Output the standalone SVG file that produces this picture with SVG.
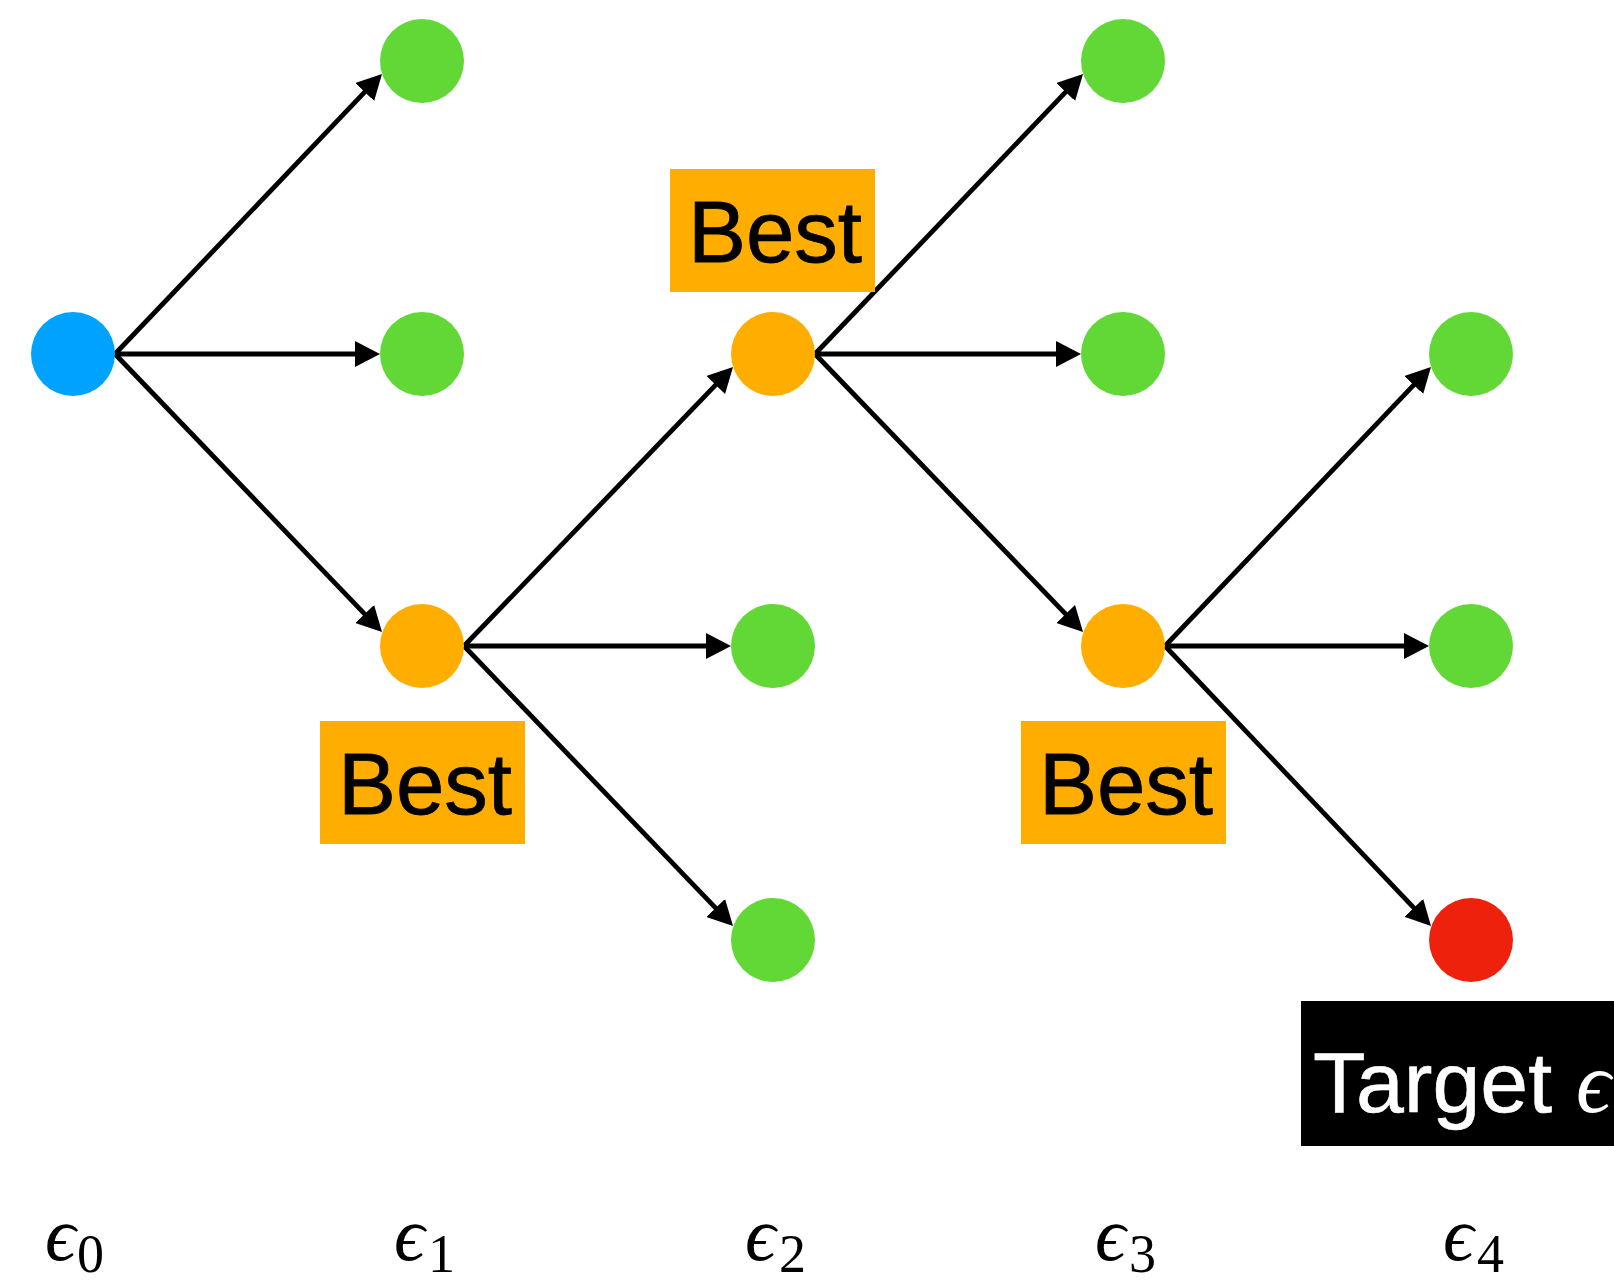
<svg xmlns="http://www.w3.org/2000/svg" width="1614" height="1286" viewBox="0 0 1614 1286">
<style>
.blue{fill:#00A2FF}
.green{fill:#61D836}
.orange{fill:#FFAE00}
.red{fill:#EE220C}
.box{fill:#FFAE00}
.lbl{font-family:"Liberation Sans",Arial,sans-serif;font-size:87px;fill:#000;stroke:#000;stroke-width:0.8}
.tgt{font-family:"Liberation Sans",Arial,sans-serif;font-size:86px;fill:#fff;stroke:#fff;stroke-width:0.6}
.eps{font-family:"Liberation Serif","DejaVu Serif",serif;font-style:italic;font-size:76px;fill:#000}
.sub{font-family:"Liberation Serif","DejaVu Serif",serif;font-size:54px;fill:#000}
.edge{stroke:#000;stroke-width:4.8;fill:none;marker-end:url(#ah)}
</style>
<defs>
<marker id="ah" markerUnits="userSpaceOnUse" markerWidth="26" markerHeight="26" refX="15" refY="13" orient="auto" viewBox="0 0 26 26">
<path d="M0,0 L25,13 L0,26 z" fill="#000"/>
</marker>
</defs>
<rect width="1614" height="1286" fill="#fff"/>
<g id="connectors">
<path class="edge" d="M115,354 L375.1,81.2"/>
<path class="edge" d="M115,354 L370,354"/>
<path class="edge" d="M115,354 L375.1,624.8"/>
<path class="edge" d="M464,646 L726.1,374.2"/>
<path class="edge" d="M464,646 L721,646"/>
<path class="edge" d="M464,646 L726.1,918.8"/>
<path class="edge" d="M815,354 L1076.1,81.2"/>
<path class="edge" d="M815,354 L1071,354"/>
<path class="edge" d="M815,354 L1076.1,624.8"/>
<path class="edge" d="M1165,646 L1424.1,374.2"/>
<path class="edge" d="M1165,646 L1419,646"/>
<path class="edge" d="M1165,646 L1424.1,918.7"/>
</g>
<g id="n0"><circle class="blue" cx="73" cy="354" r="42"/></g>
<g id="n1a"><circle class="green" cx="422" cy="61" r="42"/></g>
<g id="n1b"><circle class="green" cx="422" cy="354" r="42"/></g>
<g id="n1c"><circle class="orange" cx="422" cy="646" r="42"/></g>
<g id="n2a"><circle class="orange" cx="773" cy="354" r="42"/></g>
<g id="n2b"><circle class="green" cx="773" cy="646" r="42"/></g>
<g id="n2c"><circle class="green" cx="773" cy="940" r="42"/></g>
<g id="n3a"><circle class="green" cx="1123" cy="61" r="42"/></g>
<g id="n3b"><circle class="green" cx="1123" cy="354" r="42"/></g>
<g id="n3c"><circle class="orange" cx="1123" cy="646" r="42"/></g>
<g id="n4a"><circle class="green" cx="1471" cy="354" r="42"/></g>
<g id="n4b"><circle class="green" cx="1471" cy="646" r="42"/></g>
<g id="n4c"><circle class="red" cx="1471" cy="940" r="42"/></g>
<g id="best1"><rect class="box" x="670" y="169" width="205" height="123"/><text class="lbl" x="775" y="262" text-anchor="middle">Best</text></g>
<g id="best2"><rect class="box" x="320" y="721" width="205" height="123"/><text class="lbl" x="425" y="814" text-anchor="middle">Best</text></g>
<g id="best3"><rect class="box" x="1021" y="721" width="205" height="123"/><text class="lbl" x="1126" y="814" text-anchor="middle">Best</text></g>
<g id="target"><rect x="1301" y="1001" width="313" height="145" fill="#000"/><text class="tgt" x="1313" y="1112">Target <tspan font-family="'Liberation Serif','DejaVu Serif',serif" font-style="italic" stroke-width="0">ϵ</tspan></text></g>
<g id="axis">
<text class="eps" x="45" y="1260">ϵ</text><text class="sub" x="77" y="1272">0</text>
<text class="eps" x="394" y="1260">ϵ</text><text class="sub" x="428" y="1272">1</text>
<text class="eps" x="745" y="1260">ϵ</text><text class="sub" x="779" y="1272">2</text>
<text class="eps" x="1095" y="1260">ϵ</text><text class="sub" x="1129" y="1272">3</text>
<text class="eps" x="1443" y="1260">ϵ</text><text class="sub" x="1477" y="1272">4</text>
</g>
</svg>
